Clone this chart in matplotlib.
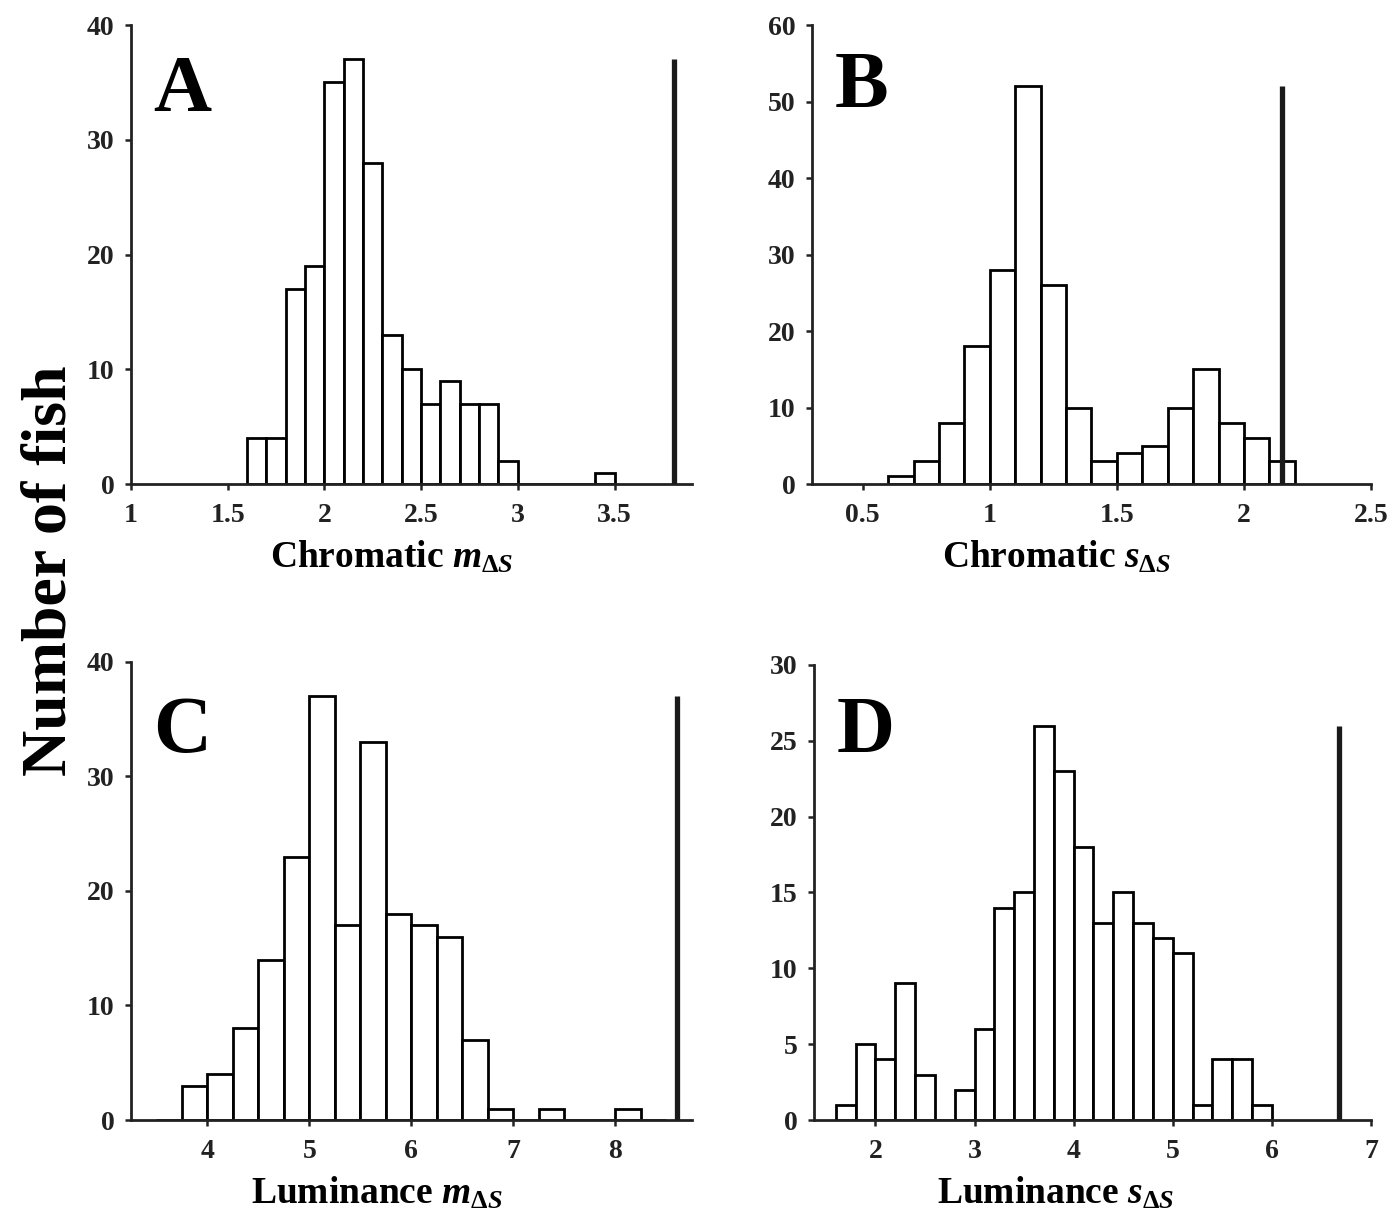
import matplotlib
matplotlib.use('Agg')
import matplotlib.pyplot as plt
import numpy as np

plt.rcParams['font.family'] = ['Liberation Serif', 'DejaVu Serif']
plt.rcParams['font.weight'] = 'bold'
plt.rcParams['mathtext.fontset'] = 'custom'
plt.rcParams['mathtext.rm'] = 'Liberation Serif:bold'
plt.rcParams['mathtext.it'] = 'Liberation Serif:italic:bold'
plt.rcParams['mathtext.bf'] = 'Liberation Serif:bold'

# histogram counts (bin start, bin width, counts)
chrom_m_start, chrom_m_width = 1.6, 0.1
chrom_m_counts = [4, 4, 17, 19, 35, 37, 28, 13, 10, 7, 9, 7, 7, 2, 0, 0, 0, 0, 1]

chrom_s_start, chrom_s_width = 0.6, 0.1
chrom_s_counts = [1, 3, 8, 18, 28, 52, 26, 10, 3, 4, 5, 10, 15, 8, 6, 3]

lum_m_start, lum_m_width = 3.5, 0.25
lum_m_counts = [0, 3, 4, 8, 14, 23, 37, 17, 33, 18, 17, 16, 7, 1, 0, 1, 0, 0, 1, 0]

lum_s_start, lum_s_width = 1.6, 0.2
lum_s_counts = [1, 5, 4, 9, 3, 0, 2, 6, 14, 15, 26, 23, 18, 13, 15, 13, 12, 11, 1, 4, 4, 1]

# observed values (vertical lines)
obs_x = [3.81, 2.15, 8.6, 6.68]
obs_h = [37, 52, 37, 26]

letters = ['A', 'B', 'C', 'D']
xlabels = [r'Chromatic $m_{\mathrm{\Delta}S}$', r'Chromatic $s_{\mathrm{\Delta}S}$',
           r'Luminance $m_{\mathrm{\Delta}S}$', r'Luminance $s_{\Delta S}$']
xlims = [(1, 3.9), (0.3, 2.5), (3.25, 8.75), (1.38, 7)]
xticks = [[1, 1.5, 2, 2.5, 3, 3.5], [0.5, 1, 1.5, 2, 2.5], [4, 5, 6, 7, 8], [2, 3, 4, 5, 6, 7]]
yticks = [[0, 10, 20, 30, 40], [0, 10, 20, 30, 40, 50, 60], [0, 10, 20, 30, 40], [0, 5, 10, 15, 20, 25, 30]]

hists = [(chrom_m_start, chrom_m_width, chrom_m_counts),
         (chrom_s_start, chrom_s_width, chrom_s_counts),
         (lum_m_start, lum_m_width, lum_m_counts),
         (lum_s_start, lum_s_width, lum_s_counts)]

fig = plt.figure(figsize=(13.93, 12.32), dpi=100)
rects = [[0.0940, 0.6071, 0.4027, 0.3726], [0.5829, 0.6071, 0.4013, 0.3726],
         [0.0940, 0.0909, 0.4027, 0.3718], [0.5843, 0.0909, 0.3999, 0.3694]]
letter_y = [0.812, 0.822, 0.803, 0.809]
label_x = [0.465, 0.437, 0.439, 0.434]

for i in range(4):
    ax = fig.add_axes(rects[i])
    start, width, counts = hists[i]
    counts = np.array(counts)
    lefts = start + width * np.arange(len(counts))
    ax.bar(lefts, counts, width=width, align='edge', facecolor='white',
           edgecolor='black', linewidth=2.0, zorder=2)
    ax.vlines(obs_x[i], 0, obs_h[i], color='#1a1a1a', linewidth=3.8, zorder=3)
    ax.set_xlim(*xlims[i])
    ax.set_ylim(yticks[i][0], yticks[i][-1])
    ax.set_xticks(xticks[i])
    ax.set_xticklabels(['%g' % t for t in xticks[i]])
    ax.set_yticks(yticks[i])
    for s in ['top', 'right']:
        ax.spines[s].set_visible(False)
    for s in ['left', 'bottom']:
        ax.spines[s].set_linewidth(2.0)
        ax.spines[s].set_color('#222222')
    ax.tick_params(direction='out', length=4, width=1.8, color='#222222',
                   labelsize=20, labelcolor='#222222')
    ax.tick_params(axis='y', pad=8)
    ax.tick_params(axis='x', pad=10)
    ax.set_xlabel(xlabels[i], fontsize=27, fontweight='bold', labelpad=8, x=label_x[i])
    ax.text(0.04, letter_y[i], letters[i], transform=ax.transAxes, fontsize=58,
            fontweight='bold', ha='left', va='baseline')

fig.text(0.036, 0.537, 'Number of fish', rotation=90, fontsize=46, fontweight='bold',
         ha='center', va='center')

plt.savefig('out.png', dpi=100)
